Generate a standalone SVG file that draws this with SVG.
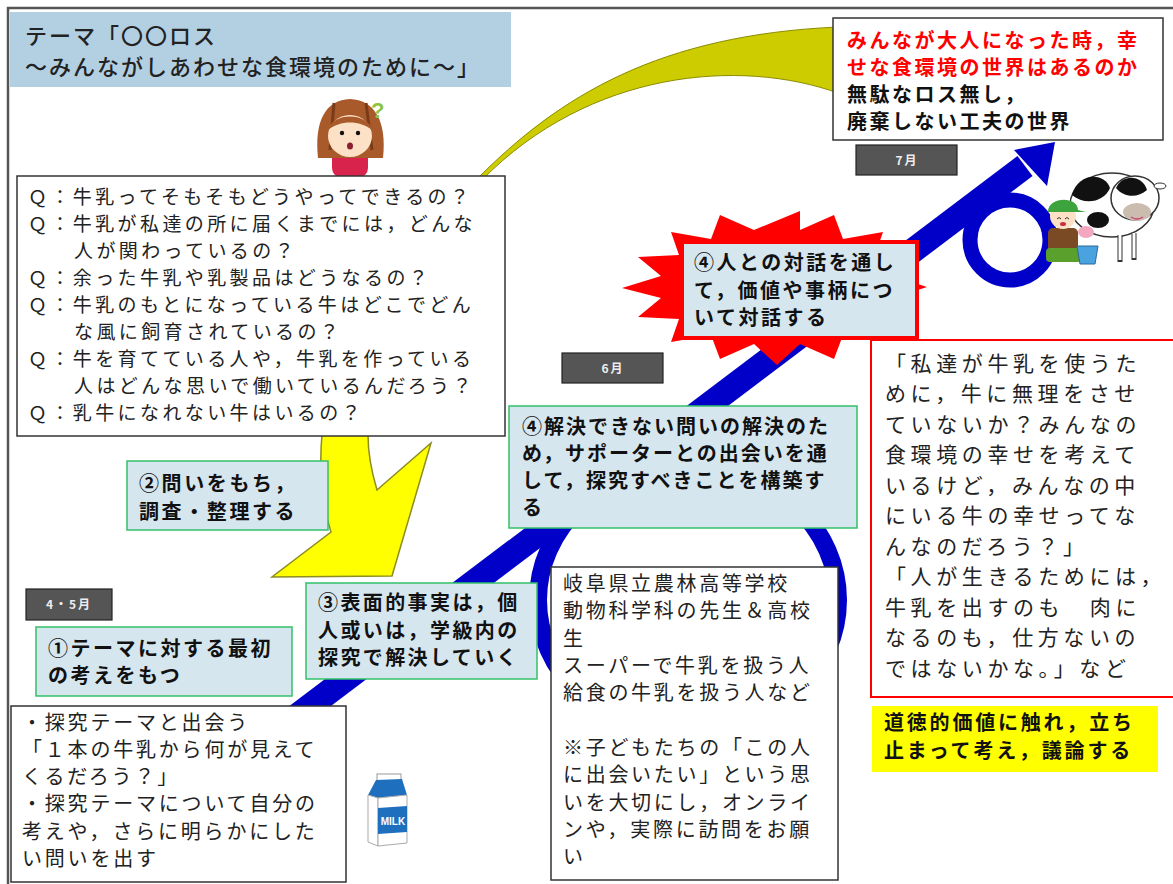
<svg xmlns="http://www.w3.org/2000/svg" width="1173" height="884" viewBox="0 0 1173 884">
  <style>
    .jp { font-family: "Noto Sans CJK JP", "Noto Sans", sans-serif; fill: #222; }
    .reg { font-size: 19px; font-weight: 400; }
    .bold { font-size: 20px; font-weight: 700; fill: #111; }
    .note { stroke: #333; stroke-width: 1.5; fill: #fff; }
    .step { fill: #d6e6ef; stroke: #33c06a; stroke-width: 1.5; }
    .month rect { fill: #555; stroke: #222; stroke-width: 1.2; }
    .month text { font-family: "Noto Sans CJK JP", sans-serif; font-size: 12px; font-weight: 700; fill: #eee; text-anchor: middle; letter-spacing: 2px; }
    .blue { fill: none; stroke: #0000c8; }
  </style>

  <!-- page frame -->
  <g id="frame" stroke="#555" stroke-width="2.5">
    <line x1="7" y1="8" x2="1173" y2="8"/>
    <line x1="8" y1="7" x2="8" y2="884"/>
  </g>

  <!-- connectors: olive curved arrow, blue spiral path, yellow bent arrow -->
  <g id="connectors">
    <path d="M476,180 C560,95 660,35 838,27 L838,93 C740,58 590,70 482,180 Z" fill="#cccc00" stroke="#8c8c00" stroke-width="1"/>
    <line class="blue" x1="285" y1="725" x2="1025" y2="166" stroke-width="25"/>
    <polygon points="1055,142 1014,150 1047,186" fill="#0000c8"/>
    <ellipse class="blue" cx="688" cy="600" rx="150" ry="135" stroke-width="18"/>
    <circle class="blue" cx="1010" cy="240" r="40" stroke-width="15"/>
    <path d="M322,435 C319,465 322,505 331,532 L272,577 L392,576 L431,443 L377,490 C371,470 368,455 368,435 Z" fill="#ffff00" stroke="#8c8c20" stroke-width="1.5"/>
  </g>

  <!-- title -->
  <g id="title">
    <rect x="10" y="12" width="501" height="75" fill="#b2d0e2"/>
    <text class="jp" x="25" y="44" font-size="22" font-weight="500" letter-spacing="2">テーマ「〇〇ロス</text>
    <text class="jp" x="25" y="75" font-size="22" font-weight="500" letter-spacing="2">～みんながしあわせな食環境のために～」</text>
  </g>

  <!-- girl wondering -->
  <g id="girl">
    <rect x="332" y="148" width="36" height="30" rx="10" fill="#d8234c"/>
    <path d="M318,158 C314,120 326,100 350,99 C374,100 387,120 383,158 Z" fill="#a85a2a"/>
    <path d="M334,103 L330,150 M366,103 L372,150" stroke="#7a3c18" stroke-width="3" fill="none"/>
    <ellipse cx="350" cy="136" rx="22" ry="21" fill="#fde1c6"/>
    <path d="M328,130 C332,112 368,112 372,130 C360,120 340,120 328,130 Z" fill="#a85a2a"/>
    <circle cx="342" cy="133" r="2.2" fill="#111"/>
    <circle cx="358" cy="133" r="2.2" fill="#111"/>
    <ellipse cx="350" cy="146" rx="3" ry="3.5" fill="#8a2030"/>
    <text x="371" y="118" font-family="Liberation Sans, sans-serif" font-size="22" font-weight="700" fill="#8cc43c">?</text>
  </g>

  <!-- question list -->
  <g id="questions">
    <rect class="note" x="17" y="176" width="488" height="260"/>
    <g class="jp reg" letter-spacing="3.4">
      <text x="28" y="204">Ｑ：牛乳ってそもそもどうやってできるの？</text>
      <text x="28" y="231">Ｑ：牛乳が私達の所に届くまでには，どんな</text>
      <text x="74" y="258">人が関わっているの？</text>
      <text x="28" y="285">Ｑ：余った牛乳や乳製品はどうなるの？</text>
      <text x="28" y="312">Ｑ：牛乳のもとになっている牛はどこでどん</text>
      <text x="74" y="339">な風に飼育されているの？</text>
      <text x="28" y="366">Ｑ：牛を育てている人や，牛乳を作っている</text>
      <text x="74" y="393">人はどんな思いで働いているんだろう？</text>
      <text x="28" y="420">Ｑ：乳牛になれない牛はいるの？</text>
    </g>
  </g>

  <!-- goal -->
  <g id="goal">
    <rect class="note" x="833" y="18" width="330" height="122"/>
    <g class="jp" font-size="20" font-weight="700" letter-spacing="2.5">
      <text x="847" y="48" style="fill:#ff0000">みんなが大人になった時，幸</text>
      <text x="847" y="75" style="fill:#ff0000">せな食環境の世界はあるのか</text>
      <text x="847" y="102" style="fill:#111">無駄なロス無し，</text>
      <text x="847" y="129" style="fill:#111">廃棄しない工夫の世界</text>
    </g>
  </g>

  <!-- months -->
  <g id="month-7" class="month"><rect x="856" y="145" width="101" height="30"/><text x="907" y="165">7月</text></g>
  <g id="month-6" class="month"><rect x="562" y="353" width="101" height="30"/><text x="613" y="373">6月</text></g>
  <g id="month-45" class="month"><rect x="26" y="589" width="86" height="31"/><text x="69" y="609">4・5月</text></g>

  <!-- step 4: dialogue (burst) -->
  <g id="step-dialogue">
    <polygon fill="#ff0000" points="927,287 893,298 916,317 875,319 883,342 843,335 834,359 800,344 777,365 754,344 720,359 711,335 671,342 679,319 638,317 661,298 622,288 661,276 638,257 679,255 671,232 711,239 720,215 754,230 800,211 800,230 834,215 843,239 883,232 875,255 916,257 893,276"/>
    <rect x="682" y="242" width="235" height="96" fill="#d6e6ef" stroke="#ff0000" stroke-width="4"/>
    <g class="jp bold" letter-spacing="2.5">
      <text x="694" y="270">④人との対話を通し</text>
      <text x="694" y="298">て，価値や事柄につ</text>
      <text x="694" y="325">いて対話する</text>
    </g>
  </g>

  <!-- step 4: supporters -->
  <g id="step-supporters">
    <rect class="step" x="509" y="406" width="348" height="122"/>
    <g class="jp bold" letter-spacing="2">
      <text x="522" y="434">④解決できない問いの解決のた</text>
      <text x="522" y="461">め，サポーターとの出会いを通</text>
      <text x="522" y="488">して，探究すべきことを構築す</text>
      <text x="522" y="515">る</text>
    </g>
  </g>

  <!-- step 2 -->
  <g id="step-2">
    <rect class="step" x="127" y="461" width="201" height="69"/>
    <g class="jp bold" letter-spacing="2.6">
      <text x="139" y="491">②問いをもち，</text>
      <text x="139" y="519">調査・整理する</text>
    </g>
  </g>

  <!-- step 3 -->
  <g id="step-3">
    <rect class="step" x="306" y="583" width="231" height="96"/>
    <g class="jp bold" letter-spacing="2.4">
      <text x="318" y="610">③表面的事実は，個</text>
      <text x="318" y="638">人或いは，学級内の</text>
      <text x="318" y="665">探究で解決していく</text>
    </g>
  </g>

  <!-- step 1 -->
  <g id="step-1">
    <rect class="step" x="36" y="627" width="256" height="69"/>
    <g class="jp bold" letter-spacing="2.5">
      <text x="48" y="656">①テーマに対する最初</text>
      <text x="48" y="683">の考えをもつ</text>
    </g>
  </g>

  <!-- theme encounter -->
  <g id="encounter">
    <rect class="note" x="11" y="706" width="335" height="176"/>
    <g class="jp" font-size="20" letter-spacing="2.8">
      <text x="22" y="730">・探究テーマと出会う</text>
      <text x="22" y="757">「１本の牛乳から何が見えて</text>
      <text x="22" y="784">くるだろう？」</text>
      <text x="22" y="811">・探究テーマについて自分の</text>
      <text x="22" y="839">考えや，さらに明らかにした</text>
      <text x="22" y="866">い問いを出す</text>
    </g>
  </g>

  <!-- milk carton -->
  <g id="milk">
    <rect x="377" y="774" width="24" height="7" fill="#fff" stroke="#999" stroke-width="1"/>
    <polygon points="368,795 376,780 402,779 407,795 378,798" fill="#1f6fbf"/>
    <polygon points="368,795 378,798 378,846 368,842" fill="#fff" stroke="#aaa" stroke-width="1"/>
    <polygon points="378,798 407,795 407,843 378,846" fill="#fff" stroke="#aaa" stroke-width="1"/>
    <polygon points="378,808 407,806 407,832 378,834" fill="#1f6fbf"/>
    <text x="393" y="825" font-family="Liberation Sans, sans-serif" font-size="10" font-weight="700" fill="#fff" text-anchor="middle">MILK</text>
  </g>

  <!-- supporters list -->
  <g id="supporters">
    <rect class="note" x="551" y="567" width="287" height="313"/>
    <g class="jp" font-size="20" letter-spacing="2.7">
      <text x="563" y="591">岐阜県立農林高等学校</text>
      <text x="563" y="618">動物科学科の先生＆高校</text>
      <text x="563" y="646">生</text>
      <text x="563" y="673">スーパーで牛乳を扱う人</text>
      <text x="563" y="700">給食の牛乳を扱う人など</text>
      <text x="563" y="755">※子どもたちの「この人</text>
      <text x="563" y="782">に出会いたい」という思</text>
      <text x="563" y="810">いを大切にし，オンライ</text>
      <text x="563" y="837">ンや，実際に訪問をお願</text>
      <text x="563" y="864">い</text>
    </g>
  </g>

  <!-- children's voices -->
  <g id="voices">
    <rect x="871" y="340" width="310" height="357" fill="#fff" stroke="#ff0000" stroke-width="2"/>
    <g class="jp" font-size="21" letter-spacing="4.6">
      <text x="885" y="371">「私達が牛乳を使うた</text>
      <text x="885" y="401">めに，牛に無理をさせ</text>
      <text x="885" y="432">ていないか？みんなの</text>
      <text x="885" y="462">食環境の幸せを考えて</text>
      <text x="885" y="493">いるけど，みんなの中</text>
      <text x="885" y="523">にいる牛の幸せってな</text>
      <text x="885" y="554">んなのだろう？」</text>
      <text x="885" y="584">「人が生きるためには，</text>
      <text x="885" y="615">牛乳を出すのも　肉に</text>
      <text x="885" y="645">なるのも，仕方ないの</text>
      <text x="885" y="676">ではないかな。」など</text>
    </g>
  </g>

  <!-- moral value -->
  <g id="moral">
    <rect x="872" y="706" width="286" height="66" fill="#ffff00"/>
    <g class="jp bold" letter-spacing="2.8">
      <text x="884" y="730">道徳的価値に触れ，立ち</text>
      <text x="884" y="758">止まって考え，議論する</text>
    </g>
  </g>

  <!-- farmer and cow -->
  <g id="farm">
    <ellipse cx="1112" cy="205" rx="42" ry="32" fill="#fff" stroke="#333" stroke-width="1.5"/>
    <path d="M1072,195 C1078,172 1105,172 1110,188 C1104,202 1085,206 1072,195 Z" fill="#111"/>
    <ellipse cx="1098" cy="220" rx="11" ry="8" fill="#111"/>
    <line x1="1120" y1="235" x2="1120" y2="262" stroke="#333" stroke-width="5"/>
    <line x1="1134" y1="233" x2="1134" y2="260" stroke="#333" stroke-width="5"/>
    <line x1="1120" y1="235" x2="1120" y2="260" stroke="#fff" stroke-width="3"/>
    <line x1="1134" y1="233" x2="1134" y2="258" stroke="#fff" stroke-width="3"/>
    <ellipse cx="1135" cy="198" rx="24" ry="22" fill="#fff" stroke="#333" stroke-width="1.5"/>
    <path d="M1116,188 C1122,174 1142,174 1147,190 C1138,198 1124,198 1116,188 Z" fill="#111"/>
    <ellipse cx="1160" cy="186" rx="6" ry="3" fill="#fff" stroke="#333" stroke-width="1"/>
    <ellipse cx="1137" cy="212" rx="14" ry="9" fill="#cbbcb0"/>
    <path d="M1131,217 Q1137,221 1143,217" stroke="#d04070" stroke-width="1.5" fill="none"/>
    <ellipse cx="1086" cy="232" rx="8" ry="6" fill="#f3a8c0"/>
    <rect x="1048" y="228" width="30" height="24" rx="5" fill="#7a4a24"/>
    <rect x="1046" y="248" width="36" height="14" rx="4" fill="#5aa02c"/>
    <circle cx="1063" cy="216" r="13" fill="#fde1c6"/>
    <path d="M1048,212 C1048,196 1078,196 1078,210 L1086,212 L1048,212 Z" fill="#3da33d"/>
    <path d="M1057,219 Q1059,216 1061,219 M1065,219 Q1067,216 1069,219" stroke="#333" stroke-width="1" fill="none"/>
    <ellipse cx="1063" cy="224" rx="3" ry="2" fill="#c83040"/>
    <polygon points="1077,246 1098,246 1095,264 1080,264" fill="#4aa3df" stroke="#2a6a99" stroke-width="1"/>
  </g>
</svg>
